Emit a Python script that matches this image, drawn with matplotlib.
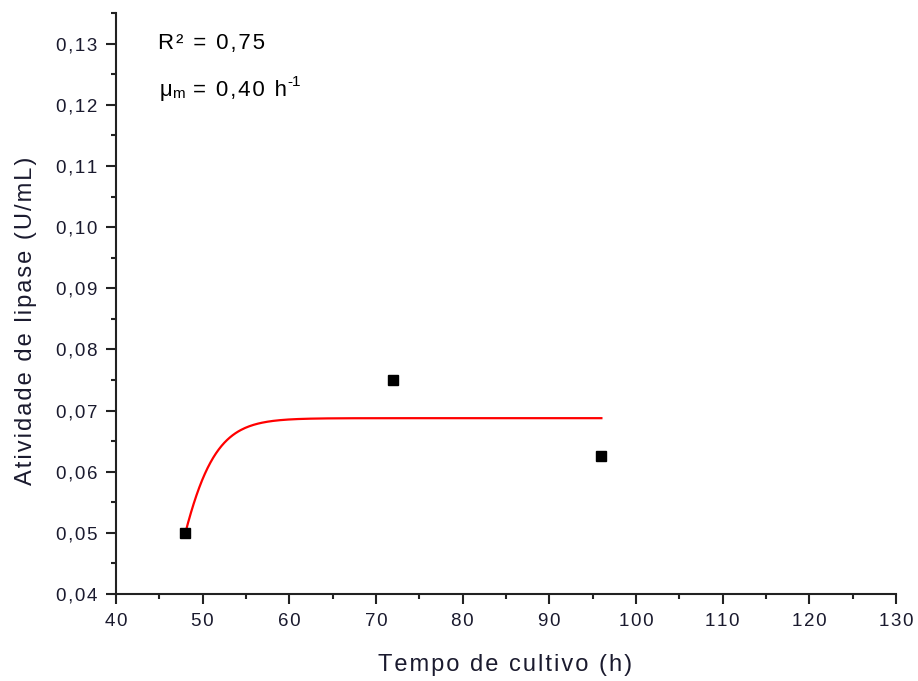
import numpy as np
import matplotlib
matplotlib.use("Agg")
import matplotlib.pyplot as plt
from matplotlib.ticker import MultipleLocator, FuncFormatter
from matplotlib.transforms import offset_copy

plt.rcParams['font.family'] = ['Liberation Sans', 'DejaVu Sans']

# Measured lipase activity
time_h = [48, 72, 96]
activity = [0.050, 0.075, 0.0625]

# Logistic model parameters
X0 = 0.050
Xm = 0.06875
mu_m = 0.40
r2 = 0.75

t_fit = np.linspace(48, 96, 300)
x_fit = Xm / (1 + (Xm / X0 - 1) * np.exp(-mu_m * (t_fit - 48)))

HAIR = '\u200a'


def spaced(s):
    """Loosen the letter spacing with hair spaces."""
    return HAIR.join(s)


def comma(v, nd=2):
    return f"{v:.{nd}f}".replace('.', ',')


fig = plt.figure(figsize=(9.18, 6.81), dpi=100)
ax = fig.add_axes([0.1264, 0.1278, 0.8497, 0.853])

ax.plot(t_fit, x_fit, color='#ff0000', lw=1.6, zorder=2)
ax.plot(time_h, activity, 's', color='black', ms=7.5, zorder=3)

ax.set_xlim(40, 130)
ax.set_ylim(0.04, 0.135)
ax.xaxis.set_major_locator(MultipleLocator(10))
ax.xaxis.set_minor_locator(MultipleLocator(5))
ax.yaxis.set_major_locator(MultipleLocator(0.01))
ax.yaxis.set_minor_locator(MultipleLocator(0.005))
ax.xaxis.set_major_formatter(FuncFormatter(lambda v, p: spaced(f"{v:.0f}")))
ax.yaxis.set_major_formatter(FuncFormatter(lambda v, p: spaced(comma(v))))

for side in ('top', 'right'):
    ax.spines[side].set_visible(False)
for side in ('left', 'bottom'):
    ax.spines[side].set_linewidth(1.5)
    ax.spines[side].set_color('#222222')

ax.tick_params(which='major', direction='out', length=7.5, width=1.5, labelsize=13.5,
               color='#222222', labelcolor='#1a1a2e', pad=6)
ax.tick_params(which='minor', direction='out', length=3.6, width=1.5, color='#222222')

ax.set_xlabel(spaced('Tempo de cultivo (h)'), fontsize=17, color='#1a1a2e')
ax.xaxis.set_label_coords(0.499, -0.104)
ax.set_ylabel(spaced('Atividade de lipase (U/mL)'), fontsize=17, color='#1a1a2e')
ax.yaxis.set_label_coords(-0.101, 0.47)

fig.canvas.draw()
renderer = fig.canvas.get_renderer()


def text_runs(x, y, runs):
    """Draw consecutive pieces of text (string, size, vertical shift in points)."""
    dx = 0.0
    for s, size, dy in runs:
        tr = offset_copy(ax.transData, fig=fig, x=dx, y=dy, units='points')
        t = ax.text(x, y, s, fontsize=size, va='baseline', ha='left', transform=tr)
        bb = t.get_window_extent(renderer)
        dx += bb.width * 72.0 / fig.dpi


text_runs(44.8, 0.1291, [(spaced(f"R² = {comma(r2)}"), 16, 0)])
text_runs(44.8, 0.1215, [(HAIR + 'μ', 16, 0), ('m', 11, -1.5),
                         (spaced(f" = {comma(mu_m)} h"), 16, 0), ('-1', 11, 7)])

fig.savefig('out.png', dpi=100)
